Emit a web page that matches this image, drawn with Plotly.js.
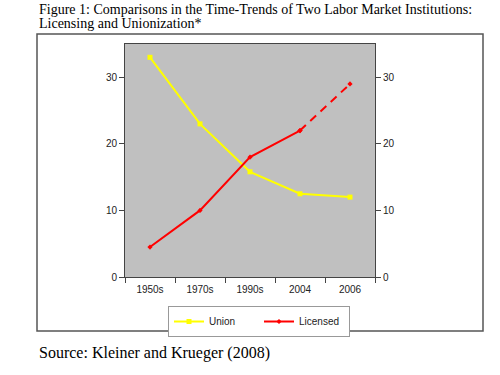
<!DOCTYPE html>
<html>
<head>
<meta charset="utf-8">
<script src="https://cdn.plot.ly/plotly-3.0.1.min.js"></script>
<style>html,body{margin:0;padding:0;background:#fff;}#chart{width:500px;height:375px;}</style>
</head>
<body>
<div id="chart"></div>
<script>
const categories = ['1950s', '1970s', '1990s', '2004', '2006'];
const unionValues = [33, 23, 15.8, 12.5, 12];
const licensedSolidCats = ['1950s', '1970s', '1990s', '2004'];
const licensedSolidValues = [4.5, 10, 18, 22];
const licensedDashCats = ['2004', '2006'];
const licensedDashValues = [22, 29];
const yTickVals = [0, 10, 20, 30];

const tickFont = {family: 'Liberation Sans, Arial, sans-serif', size: 10, color: '#222'};

const traces = [
  {x: categories, y: unionValues, type: 'scatter', mode: 'lines+markers', name: 'Union',
   line: {color: '#ffff00', width: 2}, marker: {symbol: 'square', size: 5, color: '#ffff00'}},
  {x: licensedSolidCats, y: licensedSolidValues, type: 'scatter', mode: 'lines+markers', name: 'Licensed',
   line: {color: '#ff0000', width: 2}, marker: {symbol: 'diamond', size: 4, color: '#ff0000'}},
  {x: licensedDashCats, y: licensedDashValues, type: 'scatter', mode: 'lines+markers', name: 'Licensed',
   showlegend: false, line: {color: '#ff0000', width: 2, dash: '8px,6px'}, marker: {symbol: 'diamond', size: 4, color: '#ff0000'}},
  {x: categories, y: unionValues, yaxis: 'y2', type: 'scatter', mode: 'none', showlegend: false, hoverinfo: 'skip'}
];

const layout = {
  width: 500, height: 375,
  margin: {l: 125, r: 125, t: 44, b: 98},
  paper_bgcolor: '#ffffff',
  plot_bgcolor: '#c0c0c0',
  showlegend: true,
  xaxis: {type: 'category', tickson: 'boundaries', ticks: 'outside', ticklen: 5, tickcolor: '#444',
          showline: true, linecolor: '#444', linewidth: 1, mirror: true, showgrid: false,
          tickfont: tickFont, range: [-0.5, 4.5], ticklabelstandoff: 3},
  yaxis: {range: [0, 35], tickvals: yTickVals, ticks: 'outside', ticklen: 5, tickcolor: '#444',
          showline: true, linecolor: '#444', linewidth: 1, mirror: true, showgrid: false, zeroline: false,
          tickfont: tickFont, ticksuffix: '  '},
  yaxis2: {range: [0, 35], tickvals: yTickVals, overlaying: 'y', side: 'right', ticks: 'outside', ticklen: 5,
           tickcolor: '#444', showline: false, showgrid: false, zeroline: false, tickfont: tickFont,
           tickprefix: '  '},
  legend: {orientation: 'h', x: 0.172, y: -0.1245, xanchor: 'left', yanchor: 'top',
           bordercolor: '#999', borderwidth: 1, bgcolor: '#ffffff',
           font: {family: 'Liberation Sans, Arial, sans-serif', size: 10, color: '#222'},
           entrywidth: 45, itemwidth: 30},
  shapes: [
    {type: 'rect', xref: 'paper', yref: 'paper', x0: -0.352, x1: 1.432, y0: -0.232, y1: 1.043,
     line: {color: '#555', width: 1.5}, layer: 'below'}
  ],
  annotations: [
    {xref: 'paper', yref: 'paper', x: -0.352, y: 1.150, xanchor: 'left', yanchor: 'middle', showarrow: false,
     text: 'Figure 1: Comparisons in the Time-Trends of Two Labor Market Institutions:',
     font: {family: 'Liberation Serif, Times New Roman, serif', size: 14, color: '#000'}},
    {xref: 'paper', yref: 'paper', x: -0.352, y: 1.090, xanchor: 'left', yanchor: 'middle', showarrow: false,
     text: 'Licensing and Unionization*',
     font: {family: 'Liberation Serif, Times New Roman, serif', size: 14, color: '#000'}},
    {xref: 'paper', yref: 'paper', x: -0.352, y: -0.326, xanchor: 'left', yanchor: 'middle', showarrow: false,
     text: 'Source: Kleiner and Krueger (2008)',
     font: {family: 'Liberation Serif, Times New Roman, serif', size: 16, color: '#000'}}
  ]
};

Plotly.newPlot('chart', traces, layout, {displayModeBar: false, staticPlot: true});
</script>
</body>
</html>
